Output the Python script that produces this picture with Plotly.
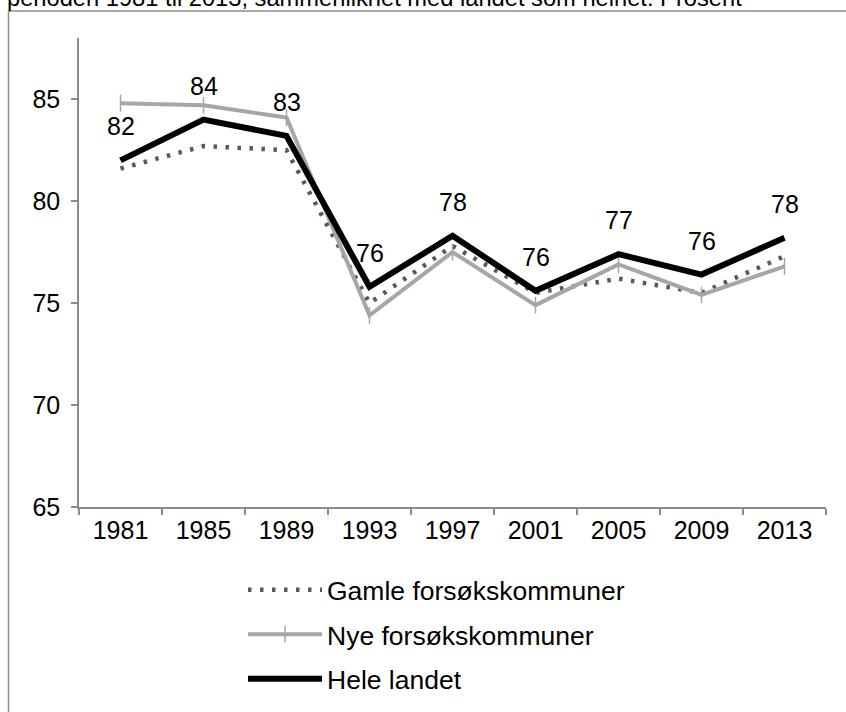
import plotly.graph_objects as go

years = ["1981", "1985", "1989", "1993", "1997", "2001", "2005", "2009", "2013"]
gamle = [81.6, 82.7, 82.5, 75.0, 77.8, 75.5, 76.2, 75.5, 77.3]
nye = [84.8, 84.7, 84.1, 74.4, 77.5, 74.9, 76.9, 75.4, 76.8]
hele = [82.0, 84.0, 83.2, 75.8, 78.3, 75.6, 77.4, 76.4, 78.2]
names = ["Gamle forsøkskommuner", "Nye forsøkskommuner", "Hele landet"]
title_text = "perioden 1981 til 2013, sammenliknet med landet som helhet. Prosent"

FONT = "Liberation Sans, Arial, sans-serif"
W, H = 846, 712
L, R, T, B = 79, 20, 38, 205
pw, ph = W - L - R, H - T - B

def px_x(p):
    return (p - L) / pw

def px_y(p):
    return (H - B - p) / ph

fig = go.Figure()
fig.add_trace(go.Scatter(
    x=years, y=gamle, name=names[0], mode="lines", legendgroup="a",
    line=dict(color="#595959", width=4.5, dash="3.5px,8.5px"),
))
fig.add_trace(go.Scatter(
    x=years, y=nye, name=names[1], mode="lines+markers", legendgroup="b",
    line=dict(color="#a6a6a6", width=4),
    marker=dict(symbol="line-ns", size=12, color="#a6a6a6",
                line=dict(color="#a6a6a6", width=1.5)),
))
fig.add_trace(go.Scatter(
    x=years, y=hele, name=names[2], mode="lines", legendgroup="c",
    line=dict(color="#000000", width=6),
))

for i, yv in enumerate(hele):
    fig.add_annotation(x=i, y=yv, xref="x", yref="y", text=f"{yv:.0f}",
                       showarrow=False, yshift=34,
                       font=dict(family=FONT, size=25, color="#000000"))

fig.add_annotation(xref="paper", yref="paper", x=px_x(5), y=px_y(13),
                   xanchor="left", yanchor="bottom", text=title_text,
                   showarrow=False, font=dict(family=FONT, size=23.7, color="#000000"))

# outer chart frame
fig.add_shape(type="line", xref="paper", yref="paper",
              x0=px_x(8.5), x1=px_x(900), y0=px_y(11), y1=px_y(11),
              line=dict(color="#8c8c8c", width=1.5))
fig.add_shape(type="line", xref="paper", yref="paper",
              x0=px_x(8.5), x1=px_x(8.5), y0=px_y(11), y1=px_y(760),
              line=dict(color="#8c8c8c", width=1.5))

fig.update_layout(
    width=W, height=H,
    margin=dict(l=L, r=R, t=T, b=B, autoexpand=False),
    paper_bgcolor="white", plot_bgcolor="white",
    font=dict(family=FONT, size=25, color="#000000"),
    showlegend=True,
    legend=dict(x=px_x(243), y=px_y(566), xanchor="left", yanchor="top",
                font=dict(family=FONT, size=26.5, color="#000000"),
                tracegroupgap=7, itemwidth=74, bgcolor="rgba(0,0,0,0)"),
)
fig.update_xaxes(
    type="category", range=[-0.5, 8.5], showgrid=False, zeroline=False,
    showline=True, linecolor="#8c8c8c", linewidth=1.5,
    ticks="outside", tickson="boundaries", ticklen=6, tickcolor="#8c8c8c", tickwidth=1.5,
    tickfont=dict(family=FONT, size=25, color="#000000"),
)
fig.update_yaxes(
    range=[65, 88], tickvals=[65, 70, 75, 80, 85], showgrid=False, zeroline=False,
    showline=True, linecolor="#8c8c8c", linewidth=1.5,
    ticks="outside", ticklen=6, tickcolor="#8c8c8c", tickwidth=1.5,
    tickfont=dict(family=FONT, size=25, color="#000000"), ticklabelstandoff=6,
)

fig.write_html("out.html", config={"displayModeBar": False},
               post_script="document.body.style.margin='0';")
